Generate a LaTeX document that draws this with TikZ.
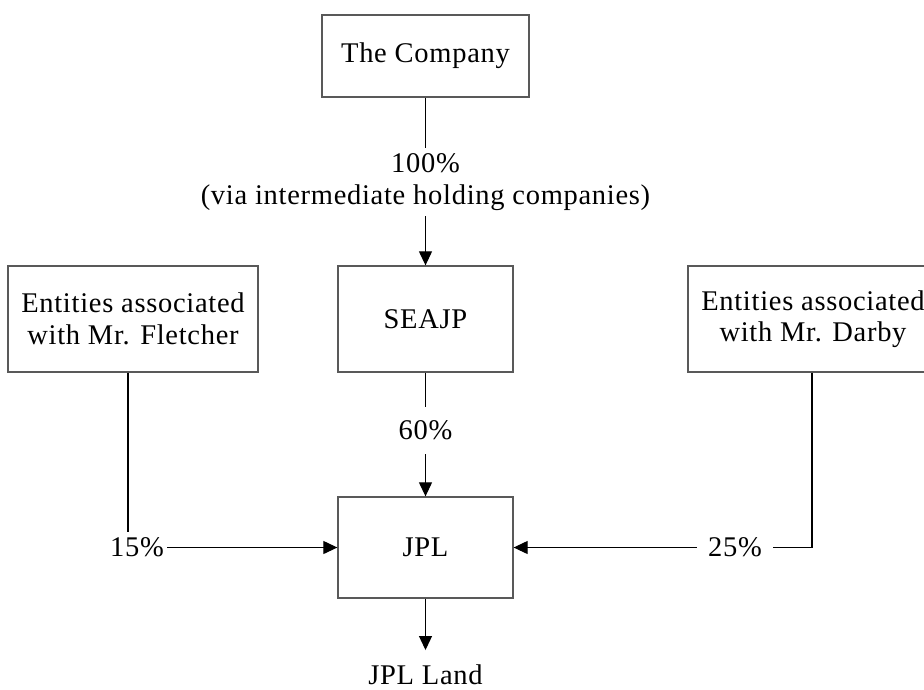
\documentclass[tikz,border=0pt]{standalone}
\usepackage{fontspec}
\setmainfont{Liberation Serif}[LetterSpace=2.5]
\usetikzlibrary{arrows.meta}
\newcommand\diagfont{\fontsize{28.5}{31.5}\selectfont}
\begin{document}
\begin{tikzpicture}[x=1pt,y=-1pt,
  every node/.style={font=\diagfont},
  box/.style={draw=black!65, line width=1.3pt, inner sep=0pt, align=center},
  lbl/.style={inner sep=0pt, align=center},
  conn/.style={line width=1.1pt, black},
  arr/.style={conn, -{Triangle[length=14pt,width=13pt]}}]
\useasboundingbox (0,0) rectangle (924,689);
\node[box, minimum width=207, minimum height=82] (company) at (425.5,56) {The Company};
\node[box, minimum width=175, minimum height=106] (seajp) at (425.5,319) {SEAJP};
\node[box, minimum width=250, minimum height=106] (fletcher) at (133,319) {Entities associated\\with Mr. Fletcher};
\node[box, minimum width=250, minimum height=106] (darby) at (813,319) {Entities associated\\with Mr. Darby};
\node[box, minimum width=175, minimum height=101] (jpl) at (425.5,547.5) {JPL};
\node[lbl, minimum height=68] (p100) at (425.5,182) {100\%\\(via intermediate holding companies)};
\node[lbl, minimum height=47] (p60) at (425.5,430.5) {60\%};
\node[lbl, minimum width=60, minimum height=30] (p15) at (137,547.5) {15\%};
\node[lbl, minimum width=76, minimum height=30] (p25) at (735,547.5) {25\%};
\node[lbl, anchor=base] (land) at (425.5,684) {JPL Land};
\draw[conn] (company) -- (p100);
\draw[arr] (p100) -- (seajp);
\draw[conn] (seajp) -- (p60);
\draw[arr] (p60) -- (jpl);
\draw[conn] ([xshift=-5pt]fletcher.south) -- ([xshift=-9pt]p15.north);
\draw[arr] (p15) -- (jpl);
\draw[conn] ([xshift=-1pt]darby.south) |- (p25.east);
\draw[arr] (p25) -- (jpl);
\draw[arr] (jpl) -- ([yshift=14pt]land.north);
\end{tikzpicture}
\end{document}
